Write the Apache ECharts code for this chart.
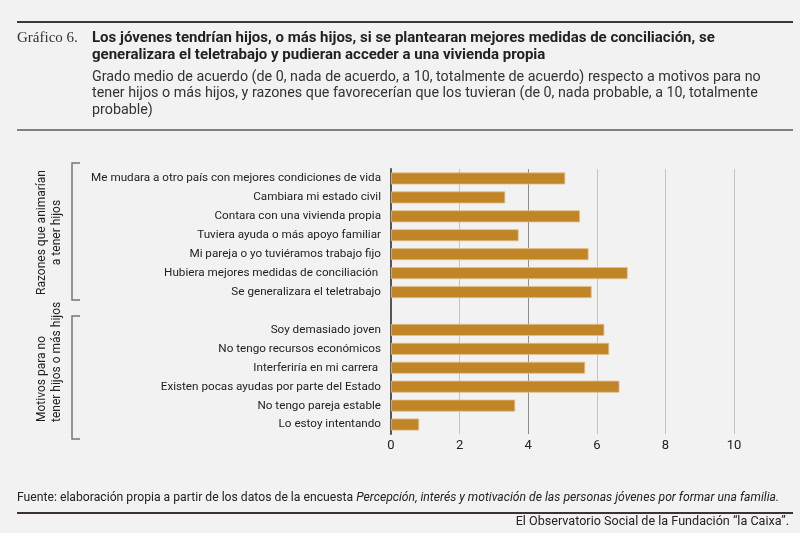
<!DOCTYPE html>
<html>
<head>
	<meta charset="utf-8"/>
	<title>Gráfico 6</title>
	<style>
		* {
			margin: 0;
			padding: 0;
		}
		html, body {
			width: 800px;
			height: 533px;
			background: #f2f2f2;
		}
		.main {
			width: 800px;
			height: 533px;
		}
	</style>
</head>
<body>

	<div id="main" class="main"></div>

	<script src="https://cdn.jsdelivr.net/npm/echarts@6/dist/echarts.min.js"></script>
	<script>
		// razones que animarían a tener hijos
		var reasonLabels = [
			'Me mudara a otro país con mejores condiciones de vida',
			'Cambiara mi estado civil',
			'Contara con una vivienda propia',
			'Tuviera ayuda o más apoyo familiar',
			'Mi pareja o yo tuviéramos trabajo fijo',
			'Hubiera mejores medidas de conciliación ',
			'Se generalizara el teletrabajo'
		];
		var reasonValues = [5.08, 3.33, 5.51, 3.72, 5.76, 6.90, 5.85];

		// motivos para no tener hijos o más hijos
		var motiveLabels = [
			'Soy demasiado joven',
			'No tengo recursos económicos',
			'Interferiría en mi carrera ',
			'Existen pocas ayudas por parte del Estado',
			'No tengo pareja estable',
			'Lo estoy intentando'
		];
		var motiveValues = [6.22, 6.36, 5.66, 6.66, 3.62, 0.82];

		var xTicks = [0, 2, 4, 6, 8, 10];

		// una fila vacía separa los dos grupos
		var categories = reasonLabels.concat([''], motiveLabels);
		var values = reasonValues.concat(['-'], motiveValues);

		var textFont = 'Roboto, "Noto Sans", sans-serif';

		var myChart = echarts.init(document.getElementById('main'));

		var option = {
			backgroundColor: '#f2f2f2',
			animation: false,
			grid: {
				left: 391,
				right: 66,
				top: 169,
				height: 265
			},
			xAxis: {
				type: 'value',
				min: xTicks[0],
				max: xTicks[xTicks.length - 1],
				interval: 2,
				axisLine: { show: false },
				axisTick: { show: false },
				axisLabel: {
					color: '#222',
					fontSize: 13,
					fontFamily: textFont,
					margin: 5
				},
				splitLine: {
					lineStyle: {
						color: ['#c4c4c4', '#c4c4c4', '#8e8e8e', '#c4c4c4', '#c4c4c4', '#c4c4c4'],
						width: 1
					}
				}
			},
			yAxis: {
				type: 'category',
				inverse: true,
				data: categories,
				axisLine: {
					lineStyle: { color: '#555', width: 2 }
				},
				axisTick: { show: false },
				axisLabel: {
					color: '#222',
					fontSize: 11.7,
					fontFamily: textFont,
					margin: 10
				}
			},
			series: [{
				type: 'bar',
				data: values,
				barWidth: 12,
				itemStyle: {
					color: '#c08527',
					borderColor: '#dfc089',
					borderWidth: 0.8
				}
			}],
			graphic: [
				// líneas de cabecera y pie
				{ type: 'line', shape: { x1: 17, y1: 22, x2: 793, y2: 22 }, style: { stroke: '#3a3a3a', lineWidth: 2 } },
				{ type: 'line', shape: { x1: 17, y1: 130, x2: 793, y2: 130 }, style: { stroke: '#5a5a5a', lineWidth: 1.5 } },
				{ type: 'line', shape: { x1: 17, y1: 513, x2: 793, y2: 513 }, style: { stroke: '#3a3330', lineWidth: 2 } },

				{
					type: 'text', left: 17, top: 31,
					style: { text: 'Gráfico 6.', font: '15px "Liberation Serif", "DejaVu Serif", serif', fill: '#333' }
				},
				{
					type: 'text', left: 92, top: 30,
					style: {
						text: 'Los jóvenes tendrían hijos, o más hijos, si se plantearan mejores medidas de conciliación, se\ngeneralizara el teletrabajo y pudieran acceder a una vivienda propia',
						font: 'bold 15px ' + textFont,
						lineHeight: 17,
						fill: '#222'
					}
				},
				{
					type: 'text', left: 92, top: 69,
					style: {
						text: 'Grado medio de acuerdo (de 0, nada de acuerdo, a 10, totalmente de acuerdo) respecto a motivos para no\ntener hijos o más hijos, y razones que favorecerían que los tuvieran (de 0, nada probable, a 10, totalmente\nprobable)',
						font: '14.3px ' + textFont,
						lineHeight: 16.5,
						fill: '#333'
					}
				},

				// corchetes de los grupos
				{
					type: 'polyline',
					shape: { points: [[80, 163], [72, 163], [72, 300], [80, 300]] },
					style: { stroke: '#777', lineWidth: 1.5, fill: null }
				},
				{
					type: 'polyline',
					shape: { points: [[80, 316], [72, 316], [72, 439], [80, 439]] },
					style: { stroke: '#777', lineWidth: 1.5, fill: null }
				},
				{
					type: 'text', x: 49.5, y: 232.5, rotation: Math.PI / 2,
					style: {
						text: 'Razones que animarían\na tener hijos',
						font: '12px ' + textFont,
						lineHeight: 15.5,
						fill: '#222',
						align: 'center',
						verticalAlign: 'middle'
					}
				},
				{
					type: 'text', x: 49.5, y: 422, rotation: Math.PI / 2,
					style: {
						text: 'Motivos para no\ntener hijos o más hijos',
						font: '12px ' + textFont,
						lineHeight: 15.5,
						fill: '#222',
						align: 'left',
						verticalAlign: 'middle'
					}
				},

				{
					type: 'text', left: 17, top: 492,
					style: {
						text: 'Fuente: elaboración propia a partir de los datos de la encuesta {i|Percepción, interés y motivación de las personas jóvenes por formar una familia.}',
						font: '12.2px ' + textFont,
						fill: '#222',
						rich: {
							i: { fontStyle: 'italic', fontSize: 12.2, fontFamily: textFont, fill: '#222' }
						}
					}
				},
				{
					type: 'text', right: 11, top: 515,
					style: {
						text: 'El Observatorio Social de la Fundación “la Caixa”.',
						font: '12.6px ' + textFont,
						fill: '#222'
					}
				}
			]
		};

		myChart.setOption(option);
	</script>
</body>
</html>
